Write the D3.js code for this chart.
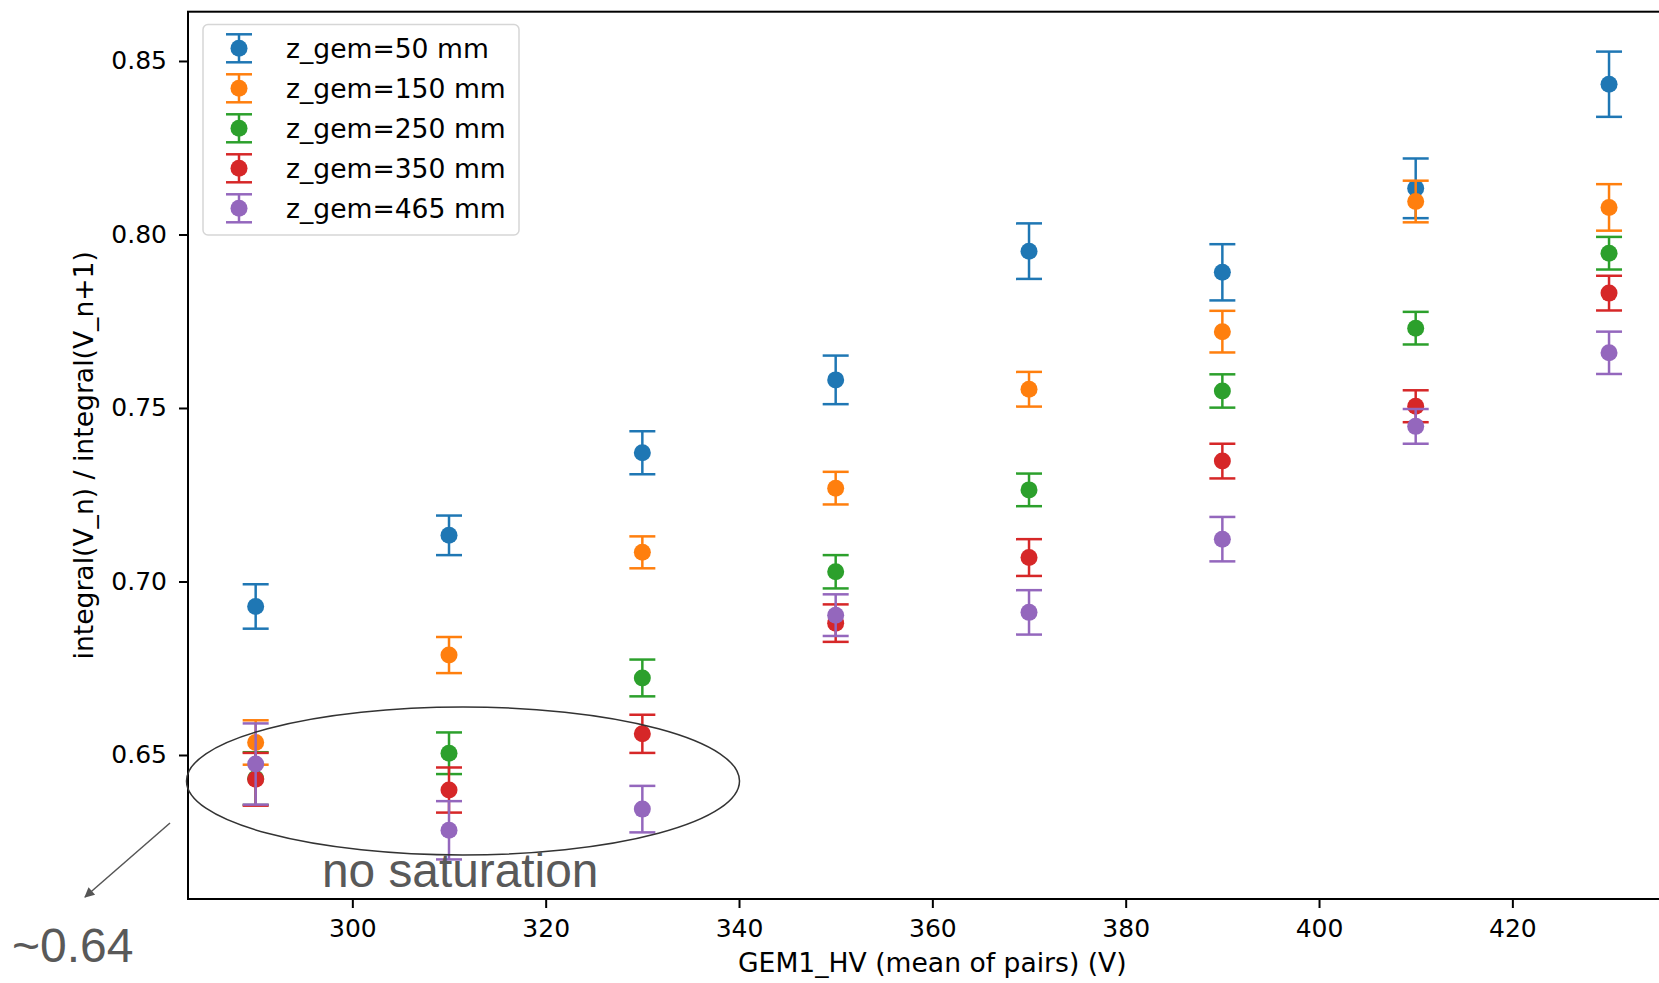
<!DOCTYPE html>
<html>
<head>
<meta charset="utf-8">
<script src="https://cdn.jsdelivr.net/npm/d3@7"></script>
<style>
  html, body { margin: 0; padding: 0; background: #fff; }
  svg { display: block; }
</style>
</head>
<body>
<svg id="chart" width="1659" height="983"></svg>
<script>
// ---- data ----
const hvValues = [290, 310, 330, 350, 370, 390, 410, 430];
const seriesLabels = ["z_gem=50 mm", "z_gem=150 mm", "z_gem=250 mm", "z_gem=350 mm", "z_gem=465 mm"];
const seriesColors = ["#1f77b4", "#ff7f0e", "#2ca02c", "#d62728", "#9467bd"];

const ratio50  = [0.6928, 0.7133, 0.7371, 0.7581, 0.7952, 0.7891, 0.8133, 0.8433];
const err50    = [0.0064, 0.0057, 0.0062, 0.0070, 0.0080, 0.0081, 0.0086, 0.0094];
const ratio150 = [0.6536, 0.6788, 0.7084, 0.7269, 0.7554, 0.7720, 0.8095, 0.8078];
const err150   = [0.0064, 0.0052, 0.0046, 0.0047, 0.0050, 0.0060, 0.0060, 0.0067];
const ratio250 = [0.6432, 0.6505, 0.6722, 0.7028, 0.7264, 0.7549, 0.7730, 0.7946];
const err250   = [0.0076, 0.0060, 0.0053, 0.0048, 0.0047, 0.0048, 0.0047, 0.0047];
const ratio350 = [0.6430, 0.6399, 0.6561, 0.6880, 0.7069, 0.7347, 0.7505, 0.7831];
const err350   = [0.0076, 0.0065, 0.0055, 0.0054, 0.0053, 0.0050, 0.0046, 0.0050];
const ratio465 = [0.6474, 0.6283, 0.6344, 0.6903, 0.6911, 0.7122, 0.7447, 0.7659];
const err465   = [0.0117, 0.0084, 0.0067, 0.0060, 0.0064, 0.0064, 0.0050, 0.0061];

const xTicks = [300, 320, 340, 360, 380, 400, 420];
const yTicks = [0.65, 0.70, 0.75, 0.80, 0.85];
const xDomain = [283, 437];
const yDomain = [0.6085, 0.8642];

const xLabel = "GEM1_HV (mean of pairs) (V)";
const yLabel = "integral(V_n) / integral(V_n+1)";
const noteText = "no saturation";
const arrowText = "~0.64";

// ---- build ----
const series = [
  { label: seriesLabels[0], color: seriesColors[0], v: ratio50,  e: err50 },
  { label: seriesLabels[1], color: seriesColors[1], v: ratio150, e: err150 },
  { label: seriesLabels[2], color: seriesColors[2], v: ratio250, e: err250 },
  { label: seriesLabels[3], color: seriesColors[3], v: ratio350, e: err350 },
  { label: seriesLabels[4], color: seriesColors[4], v: ratio465, e: err465 }
];

const svg = d3.select("#chart");
svg.append("rect").attr("width", 1659).attr("height", 983).attr("fill", "#fff");

const pLeft = 188, pRight = 1676.7, pTop = 11.7, pBottom = 899;
const x = d3.scaleLinear().domain(xDomain).range([pLeft, pRight]);
const y = d3.scaleLinear().domain(yDomain).range([pBottom, pTop]);

const FONT = "DejaVu Sans, sans-serif";
const FS = 25;
const LFS = 26.6;

// axes
const xAxis = svg.append("g")
  .attr("transform", `translate(0,${pBottom})`)
  .call(d3.axisBottom(x).tickValues(xTicks).tickFormat(d3.format("d"))
        .tickSize(9).tickSizeOuter(0).tickPadding(11));
const yAxis = svg.append("g")
  .attr("transform", `translate(${pLeft},0)`)
  .call(d3.axisLeft(y).tickValues(yTicks).tickFormat(d3.format(".2f"))
        .tickSize(9).tickSizeOuter(0).tickPadding(12));
[xAxis, yAxis].forEach(g => {
  g.selectAll("text").attr("font-family", FONT).attr("font-size", FS).attr("fill", "#000");
  g.selectAll("line").attr("stroke", "#000").attr("stroke-width", 2);
  g.select(".domain").remove();
});

// spines
svg.append("rect")
  .attr("x", pLeft).attr("y", pTop)
  .attr("width", pRight - pLeft).attr("height", pBottom - pTop)
  .attr("fill", "none").attr("stroke", "#000").attr("stroke-width", 2);

// data
const capHalf = 13, dotR = 8.5, lw = 2.5;
series.forEach(s => {
  const g = svg.append("g");
  hvValues.forEach((hv, i) => {
    const cx = x(hv), lo = y(s.v[i] - s.e[i]), hi = y(s.v[i] + s.e[i]);
    g.append("line").attr("x1", cx).attr("x2", cx).attr("y1", lo).attr("y2", hi)
      .attr("stroke", s.color).attr("stroke-width", lw);
    [lo, hi].forEach(yy => g.append("line")
      .attr("x1", cx - capHalf).attr("x2", cx + capHalf).attr("y1", yy).attr("y2", yy)
      .attr("stroke", s.color).attr("stroke-width", lw));
  });
  g.selectAll("circle").data(hvValues).join("circle")
    .attr("cx", d => x(d)).attr("cy", (d, i) => y(s.v[i])).attr("r", dotR)
    .attr("fill", s.color);
});

// legend
const lg = svg.append("g");
lg.append("rect").attr("x", 203).attr("y", 24.5).attr("width", 316).attr("height", 210.5)
  .attr("rx", 5).attr("fill", "#fff").attr("fill-opacity", 0.85)
  .attr("stroke", "#d6d6d6").attr("stroke-width", 1.5);
series.forEach((s, k) => {
  const cy = 48.3 + k * 40, cx = 239;
  lg.append("line").attr("x1", cx).attr("x2", cx).attr("y1", cy - 14).attr("y2", cy + 14)
    .attr("stroke", s.color).attr("stroke-width", lw);
  [cy - 14, cy + 14].forEach(yy => lg.append("line")
    .attr("x1", cx - capHalf).attr("x2", cx + capHalf).attr("y1", yy).attr("y2", yy)
    .attr("stroke", s.color).attr("stroke-width", lw));
  lg.append("circle").attr("cx", cx).attr("cy", cy).attr("r", dotR).attr("fill", s.color);
  lg.append("text").attr("x", 286).attr("y", cy).attr("dy", "0.36em")
    .attr("font-family", FONT).attr("font-size", LFS).attr("fill", "#000").text(s.label);
});

// axis labels
svg.append("text").attr("x", (pLeft + pRight) / 2).attr("y", 972)
  .attr("text-anchor", "middle").attr("font-family", FONT).attr("font-size", LFS)
  .attr("fill", "#000").text(xLabel);
svg.append("text").attr("transform", `translate(93,${(pTop + pBottom) / 2}) rotate(-90)`)
  .attr("text-anchor", "middle").attr("font-family", FONT).attr("font-size", LFS)
  .attr("fill", "#000").text(yLabel);

// annotations
svg.append("ellipse").attr("cx", 463).attr("cy", 781).attr("rx", 276.5).attr("ry", 74)
  .attr("fill", "none").attr("stroke", "#333").attr("stroke-width", 1.5);
svg.append("text").attr("x", 322).attr("y", 887)
  .attr("font-family", "Liberation Sans, Arial, sans-serif").attr("font-size", 47.8)
  .attr("fill", "#595959").text(noteText);
svg.append("text").attr("x", 12).attr("y", 962)
  .attr("font-family", "Liberation Sans, Arial, sans-serif").attr("font-size", 48)
  .attr("fill", "#595959").text(arrowText);

const defs = svg.append("defs");
defs.append("marker").attr("id", "ah").attr("viewBox", "0 0 10 10")
  .attr("refX", 9).attr("refY", 5).attr("markerWidth", 16).attr("markerHeight", 10)
  .attr("markerUnits", "userSpaceOnUse").attr("orient", "auto")
  .append("path").attr("d", "M0,0 L10,5 L0,10 Z").attr("fill", "#555");
svg.append("line").attr("x1", 170).attr("y1", 823).attr("x2", 85).attr("y2", 897)
  .attr("stroke", "#555").attr("stroke-width", 1.5).attr("marker-end", "url(#ah)");
</script>
</body>
</html>
